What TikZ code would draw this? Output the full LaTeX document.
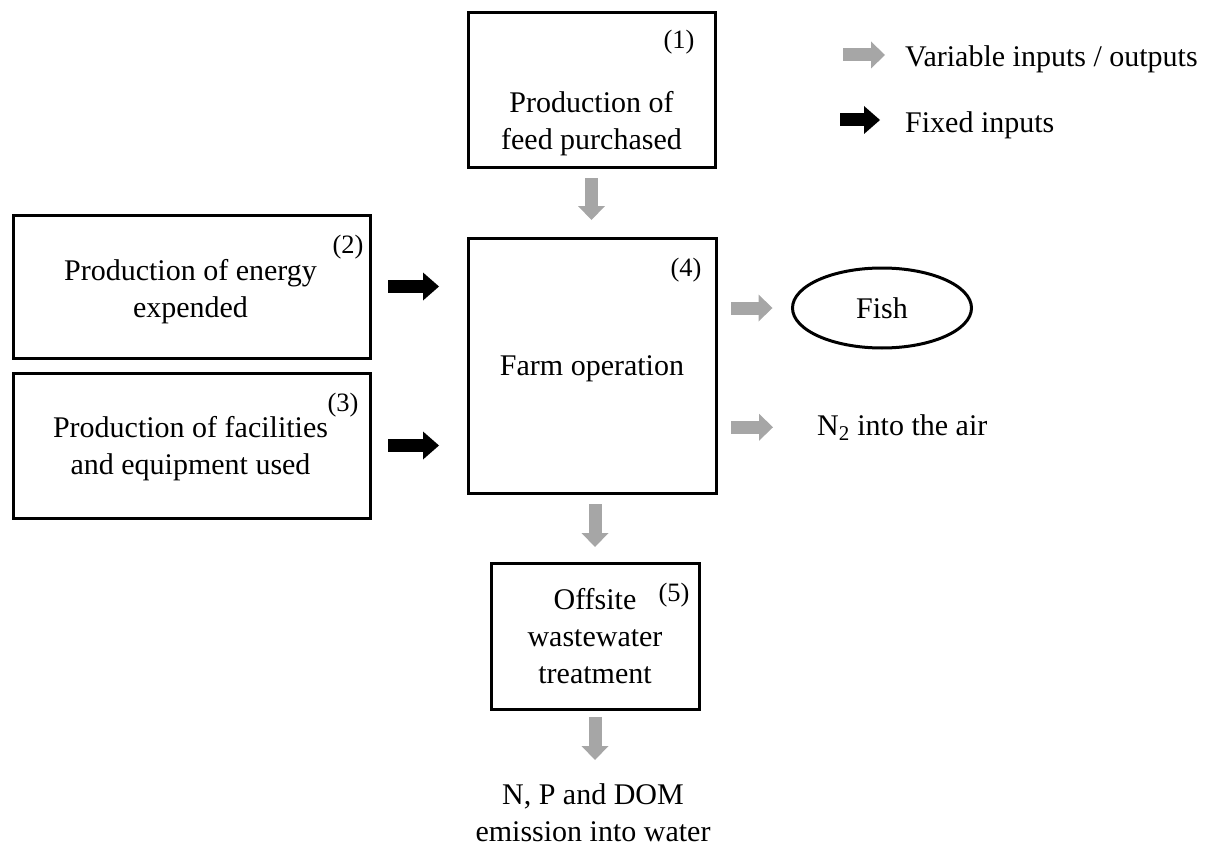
\documentclass[tikz,border=0pt]{standalone}
\usepackage{fontspec}
\setmainfont{Liberation Serif}
\usetikzlibrary{arrows.meta,shapes.geometric}
\definecolor{arrgray}{RGB}{166,166,166}
\newcommand\figfs{\fontsize{30pt}{37pt}\selectfont}
\newcommand\numfs{\fontsize{26.5pt}{30pt}\selectfont}
\begin{document}
\begin{tikzpicture}[x=1pt,y=-1pt,
  box/.style={draw, line width=3pt, inner sep=0pt, outer sep=0pt, align=center, font=\figfs},
  num/.style={inner sep=0pt, font=\numfs},
  txt/.style={inner sep=0pt, align=center, font=\figfs},
  garrow/.style={draw=arrgray, line width=13pt, -{Triangle[length=14pt,width=27pt,line width=0pt]}},
  barrow/.style={draw=black, line width=13pt, -{Triangle[length=16pt,width=28pt,line width=0pt]}}]
\useasboundingbox (0,0) rectangle (1205,848);

% boxes
\node[box, minimum width=247pt, minimum height=155pt] (b1) at (591.5,90.5) {};
\node[txt] (t1) at (591.5,124) {Production of\\feed purchased};
\node[box, minimum width=357pt, minimum height=143pt] (b2) at (191.5,286.5) {};
\node[txt] (t2) at (190.5,292) {Production of energy\\expended};
\node[box, minimum width=357pt, minimum height=145pt] (b3) at (191.5,445.5) {};
\node[txt] (t3) at (190.5,449) {Production of facilities\\and equipment used};
\node[box, minimum width=248pt, minimum height=255pt] (b4) at (592,365.5) {};
\node[txt] (t4) at (592,369) {Farm operation};
\node[box, minimum width=208pt, minimum height=146pt] (b5) at (595,636) {Offsite\\wastewater\\treatment};
\node[draw, ellipse, line width=3pt, minimum width=179pt, minimum height=80pt, inner sep=0pt, outer sep=0pt, font=\figfs] (fish) at (882,308) {Fish};

% numbers
\node[num] (n1) at (679,42) {(1)};
\node[num] (n2) at (348,247) {(2)};
\node[num] (n3) at (343,405) {(3)};
\node[num] (n4) at (686,270) {(4)};
\node[num] (n5) at (674,595) {(5)};

% output texts
\node[txt, anchor=base west] (air) at (817,435) {N\textsubscript{2} into the air};
\node[txt, anchor=north] (water) at (593,783) {N, P and DOM\\emission into water};

% legend
\coordinate (lg1) at (843,55);
\coordinate (lg2) at (840,120);
\node[txt, anchor=base west] (leg1) at (905,67) {Variable inputs / outputs};
\node[txt, anchor=base west] (leg2) at (905,133) {Fixed inputs};

% connectors
\draw[garrow, shorten <=10pt, shorten >=18pt] (b1.south) -- (b1.south |- b4.north);
\draw[barrow, shorten <=18pt, shorten >=29pt] (b2.east) -- (b2.east -| b4.west);
\draw[barrow, shorten <=18pt, shorten >=29pt] (b3.east) -- (b3.east -| b4.west);
\draw[garrow, shorten <=15pt, shorten >=20pt] (b4.east |- fish.west) -- (fish.west);
\draw[garrow, shorten <=15pt, shorten >=44pt] (b4.east |- air.west) -- (air.west);
\draw[garrow, shorten <=11pt, shorten >=16pt] (b5.north |- b4.south) -- (b5.north);
\draw[garrow, shorten <=8pt, shorten >=23pt] (b5.south) -- (b5.south |- water.north);
\draw[garrow, shorten >=20pt] (lg1) -- (lg1 -| leg1.west);
\draw[barrow, shorten >=25pt] (lg2) -- (lg2 -| leg2.west);
\end{tikzpicture}
\end{document}
